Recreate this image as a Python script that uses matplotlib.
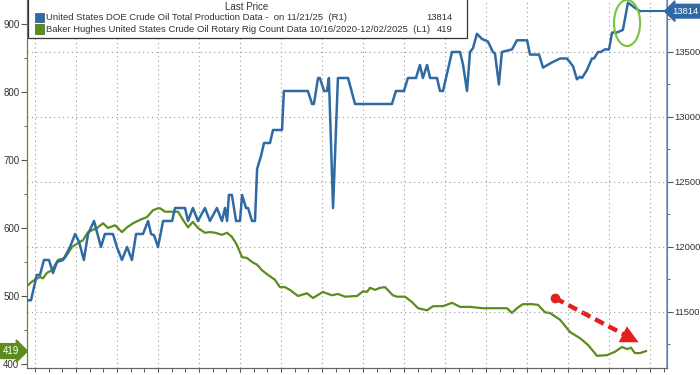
import matplotlib
matplotlib.use("Agg")
import matplotlib.pyplot as plt
import matplotlib.transforms as mtransforms
from matplotlib.patches import Rectangle, Ellipse
import numpy as np

plt.rcParams['font.family'] = ['Liberation Sans', 'DejaVu Sans']

# x = weeks since 10/16/2020
blue_week = [0, 1.3, 3.8, 5.2, 6.9, 9.1, 10.8, 12.6, 15.2, 18.2, 20.4, 22.1, 24.2, 26.0, 28.6,
             31.6, 33.3, 36.8, 38.5, 40.7, 42.9, 45.0, 46.8, 49.8, 52.0, 53.3, 54.6, 56.3, 58.5,
             62.4, 63.7, 68.0, 69.3, 71.4, 73.6, 76.6, 78.8, 81.8, 84.0, 85.3, 86.2, 87.0, 88.3,
             90.1, 91.8, 92.7, 94.4, 95.3, 97.0, 98.3, 99.2, 100.9, 102.2, 104.8, 106.1, 110.0,
             110.8, 121.2, 123.0, 123.8, 125.6, 126.4, 128.2, 129.5, 130.3, 132.1, 134.2, 138.6,
             141.6, 157.6, 159.3, 162.8, 164.5, 168.0, 169.7, 171.0, 172.8, 174.1, 177.1, 178.4,
             179.7, 183.6, 187.1, 188.4, 190.1, 191.4, 192.7, 194.4, 196.6, 199.2, 201.3, 202.2,
             203.9, 205.2, 209.6, 211.7, 216.1, 217.4, 221.3, 223.0, 226.9, 230.4, 233.4, 234.7,
             236.0, 237.7, 239.0, 239.9, 242.0, 244.2, 245.1, 246.8, 248.1, 249.8, 251.6, 252.9,
             255.0, 257.6, 259.8, 262.8, 265.0]
blue_val = [11590, 11590, 11785, 11785, 11900, 11900, 11800, 11885, 11900, 12000, 12100, 12040,
            11900, 12100, 12200, 12000, 12100, 12100, 12000, 11900, 12000, 11900, 12100, 12100,
            12200, 12100, 12090, 12000, 12200, 12200, 12300, 12300, 12200, 12300, 12200, 12300,
            12200, 12300, 12200, 12300, 12200, 12400, 12400, 12200, 12200, 12400, 12300, 12300,
            12200, 12200, 12600, 12700, 12800, 12800, 12900, 12900, 13200, 13200, 13100, 13100,
            13300, 13300, 13200, 13200, 13300, 12300, 13300, 13300, 13100, 13100, 13200, 13200,
            13300, 13300, 13400, 13300, 13400, 13300, 13300, 13200, 13200, 13500, 13500, 13400,
            13200, 13500, 13530, 13640, 13600, 13580, 13500, 13490, 13250, 13500, 13520, 13590,
            13590, 13480, 13480, 13380, 13420, 13450, 13450, 13420, 13390, 13290, 13310, 13300,
            13360, 13450, 13450, 13500, 13500, 13520, 13520, 13650, 13650, 13670, 13880, 13840,
            13814]

green_week = [0, 1.7, 3.0, 5.2, 6.5, 8.2, 10.4, 13.0, 16.0, 19.1, 21.7, 23.8, 26.0, 29.9, 32.5,
              34.6, 37.7, 40.7, 42.9, 45.5, 48.5, 51.5, 54.1, 56.3, 57.2, 59.3, 62.4, 65.0, 67.1,
              69.3, 71.4, 73.6, 76.6, 78.8, 81.0, 84.0, 86.2, 88.3, 90.5, 92.7, 94.8, 97.0, 99.2,
              101.3, 103.9, 106.9, 109.1, 111.3, 113.4, 116.9, 120.8, 123.4, 127.7, 131.6, 134.2,
              137.3, 142.5, 145.1, 146.8, 148.1, 150.3, 152.4, 154.6, 158.0, 159.8, 163.2, 166.3,
              168.9, 172.8, 175.4, 179.7, 183.6, 187.1, 191.4, 197.0, 203.1, 207.4, 209.6, 211.7,
              214.3, 218.2, 220.8, 223.9, 226.0, 230.4, 234.7, 239.0, 242.5, 246.4, 250.7, 254.2,
              257.2, 259.4, 261.1, 262.8, 265.0, 267.6]
green_val = [516, 521, 524, 528, 526, 534, 538, 553, 556, 572, 578, 582, 594, 600, 607, 600, 604,
             594, 601, 607, 612, 616, 626, 629, 629, 624, 624, 624, 612, 601, 609, 600, 593, 594,
             593, 590, 593, 587, 575, 557, 556, 550, 546, 538, 531, 524, 513, 513, 509, 500, 504,
             497, 506, 501, 503, 499, 500, 507, 506, 512, 509, 512, 513, 501, 499, 499, 491, 482,
             479, 485, 485, 490, 484, 484, 482, 482, 482, 475, 482, 488, 488, 487, 476, 475, 465,
             447, 438, 428, 412, 413, 418, 425, 422, 424, 416, 416, 419]

blue_label = 'United States DOE Crude Oil Total Production Data -  on 11/21/25  (R1)'
green_label = 'Baker Hughes United States Crude Oil Rotary Rig Count Data 10/16/2020-12/02/2025  (L1)'

BLUE = '#2f6aa5'
GREEN = '#5b8c1c'
RED = '#e3201c'
TXT = '#333333'

fig = plt.figure(figsize=(7, 3.75), dpi=100)
ax = fig.add_axes([27 / 700, 7 / 375, 640 / 700, 368 / 375])
ax2 = ax.twinx()

# green on left axis
ax.plot(green_week, green_val, color=GREEN, lw=1.6, zorder=3)
ax.set_ylim(394.1, 935.3)
ax.set_xlim(-0.43, 276.7)
ax.set_yticks(np.arange(400, 901, 100))
ax.set_yticks(np.arange(450, 900, 100), minor=True)
grid_x = np.arange(3.0, 276, 17.75)
ax.set_xticks(grid_x)
ax.set_xticks(np.arange(3.0, 276, 5.92), minor=True)
ax.tick_params(axis='x', which='both', labelbottom=False, length=3, color='#555555', width=0.7)
ax.tick_params(axis='y', which='major', labelsize=7, labelcolor=TXT, length=4, color='#555555', pad=1.5)
ax.tick_params(axis='y', which='minor', length=2.5, color='#555555')
ax.grid(axis='x', linestyle=(0, (1, 3)), color='#999999', lw=0.8)

# blue on right axis
ax2.plot(blue_week, blue_val, color=BLUE, lw=1.8, zorder=3)
ax2.plot([blue_week[-1], 276.7], [blue_val[-1], blue_val[-1]], color=BLUE, lw=1.5, clip_on=False)
ax2.set_ylim(11069, 13900)
ax2.set_yticks(np.arange(11500, 13501, 500))
ax2.set_yticks(np.arange(11250, 13800, 500), minor=True)
ax2.tick_params(axis='y', which='major', labelsize=6.8, labelcolor=TXT, length=4, color='#555555', pad=1.2)
ax2.tick_params(axis='y', which='minor', length=2.5, color='#555555')
ax2.grid(axis='y', linestyle=(0, (1, 3)), color='#999999', lw=0.8)

for a in (ax, ax2):
    a.spines['top'].set_visible(False)
ax.spines['left'].set_color(GREEN)
ax2.spines['left'].set_color(GREEN)
ax2.spines['right'].set_color('#7f9bbd')
ax2.spines['right'].set_linewidth(1.2)
ax.spines['bottom'].set_color('#666666')
ax2.spines['bottom'].set_color('#666666')

# last value tags
tr_r = mtransforms.blended_transform_factory(ax2.transAxes, ax2.transData)
ax2.text(1.008, blue_val[-1], '13814', transform=tr_r, ha='left', va='center', fontsize=6.8,
         color='white', bbox=dict(boxstyle='larrow,pad=0.25', fc=BLUE, ec=BLUE), clip_on=False, zorder=6)
tr_l = mtransforms.blended_transform_factory(ax.transAxes, ax.transData)
ax.text(-0.012, green_val[-1], '419', transform=tr_l, ha='right', va='center', fontsize=7,
        color='white', bbox=dict(boxstyle='rarrow,pad=0.25', fc=GREEN, ec=GREEN), clip_on=False, zorder=6)

# red dashed arrow
ax.plot([228.2, 260.0], [497, 440], color=RED, lw=3.2, linestyle=(0, (2.2, 1.2)), zorder=5)
ax.plot([228.2], [497], 'o', color=RED, ms=6, zorder=5)
ax.annotate('', xy=(265.5, 430), xytext=(258.0, 443),
            arrowprops=dict(arrowstyle='-|>,head_length=0.8,head_width=0.4', mutation_scale=16,
                            color=RED, lw=0), zorder=5)

# green ellipse on latest jump
ax2.add_patch(Ellipse((259.4, 13723), 11.3, 354, fill=False, ec='#7cc242', lw=1.5, zorder=5))

# legend box
fig.add_artist(Rectangle((28 / 700, (375 - 38) / 375), 439 / 700, 0.15, transform=fig.transFigure,
                         fc='white', ec='#333333', lw=0.9, zorder=10))
fig.text(247 / 700, (375 - 7) / 375, 'Last Price', ha='center', va='center', fontsize=7,
         color=TXT, zorder=11)
for i, (lab, val, col) in enumerate([(blue_label, '13814', BLUE), (green_label, '419', GREEN)]):
    yc = (375 - (17.5 + 11.5 * i)) / 375
    fig.add_artist(Rectangle((35 / 700, yc - 4.5 / 375), 9 / 700, 9 / 375, transform=fig.transFigure,
                             fc=col, ec='#335577' if i == 0 else '#3d6412', lw=0.5, zorder=11))
    fig.text(46 / 700, yc, lab, ha='left', va='center', fontsize=6.8, color=TXT, zorder=11)
    fig.text(453 / 700, yc, val, ha='right', va='center', fontsize=6.8, color=TXT, zorder=11)

fig.savefig('out.png', dpi=100)
